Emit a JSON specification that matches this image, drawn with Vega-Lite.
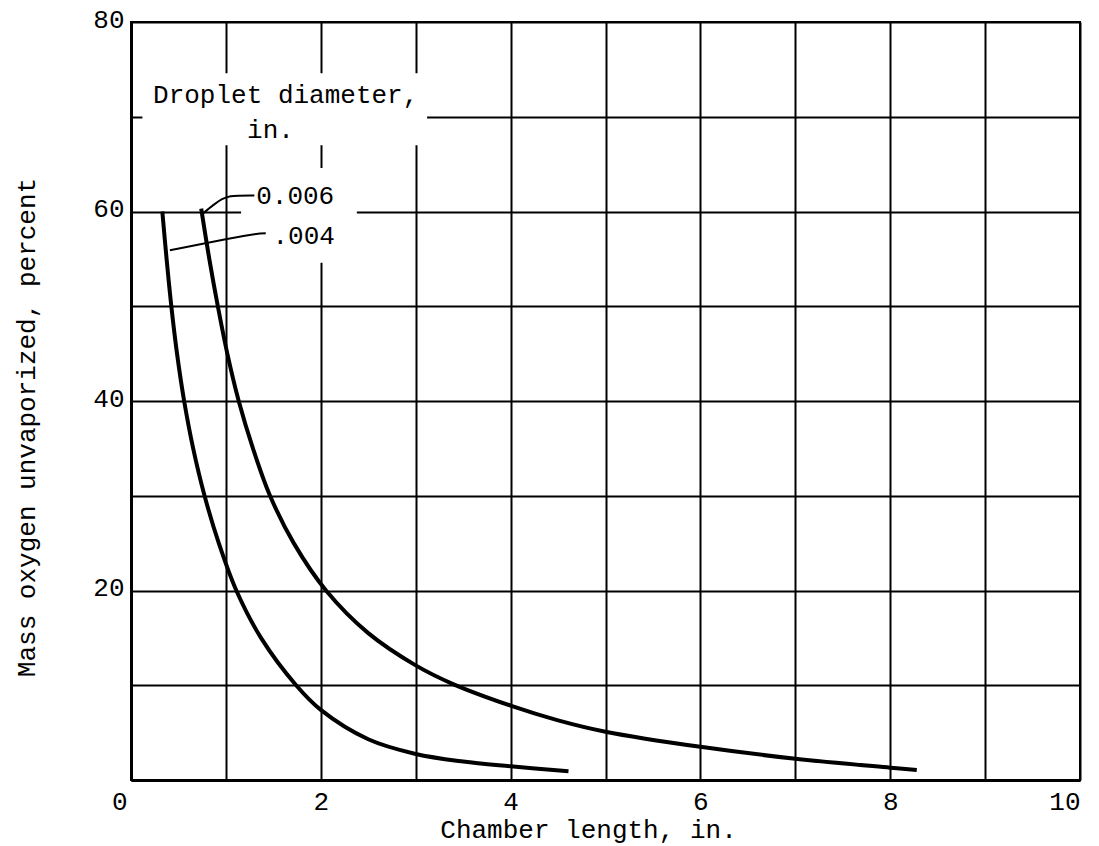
{
  "$schema": "https://vega.github.io/schema/vega-lite/v6.json",
  "width": 949,
  "height": 758,
  "autosize": "none",
  "padding": {"left": 131, "top": 22, "right": 19, "bottom": 66},
  "background": "white",
  "config": {
    "font": "Liberation Mono",
    "view": {"stroke": "black", "strokeWidth": 2}
  },
  "datasets": {
    "curves": [
      {"series": "0.006", "x": 0.74, "y": 60.3},
      {"series": "0.006", "x": 0.825, "y": 55},
      {"series": "0.006", "x": 0.915, "y": 50},
      {"series": "0.006", "x": 1.015, "y": 45},
      {"series": "0.006", "x": 1.135, "y": 40},
      {"series": "0.006", "x": 1.285, "y": 35},
      {"series": "0.006", "x": 1.465, "y": 30},
      {"series": "0.006", "x": 1.715, "y": 25},
      {"series": "0.006", "x": 2.055, "y": 20},
      {"series": "0.006", "x": 2.5, "y": 15.5},
      {"series": "0.006", "x": 3.0, "y": 12.1},
      {"series": "0.006", "x": 3.4, "y": 10.1},
      {"series": "0.006", "x": 4.0, "y": 7.85},
      {"series": "0.006", "x": 4.5, "y": 6.3},
      {"series": "0.006", "x": 5.0, "y": 5.1},
      {"series": "0.006", "x": 6.0, "y": 3.5},
      {"series": "0.006", "x": 7.0, "y": 2.25},
      {"series": "0.006", "x": 8.0, "y": 1.3},
      {"series": "0.006", "x": 8.28, "y": 1.05},
      {"series": "0.004", "x": 0.33, "y": 60},
      {"series": "0.004", "x": 0.375, "y": 55},
      {"series": "0.004", "x": 0.425, "y": 50},
      {"series": "0.004", "x": 0.485, "y": 45},
      {"series": "0.004", "x": 0.56, "y": 40},
      {"series": "0.004", "x": 0.655, "y": 35},
      {"series": "0.004", "x": 0.775, "y": 30},
      {"series": "0.004", "x": 0.925, "y": 25},
      {"series": "0.004", "x": 1.11, "y": 20},
      {"series": "0.004", "x": 1.37, "y": 15},
      {"series": "0.004", "x": 1.74, "y": 10},
      {"series": "0.004", "x": 2.0, "y": 7.4},
      {"series": "0.004", "x": 2.5, "y": 4.3},
      {"series": "0.004", "x": 3.0, "y": 2.75},
      {"series": "0.004", "x": 3.5, "y": 1.95},
      {"series": "0.004", "x": 4.0, "y": 1.45},
      {"series": "0.004", "x": 4.61, "y": 0.92}
    ],
    "leaders": [
      {"series": "a", "o": 1, "x": 0.76, "y": 59.8},
      {"series": "a", "o": 2, "x": 0.87, "y": 60.7},
      {"series": "a", "o": 3, "x": 0.96, "y": 61.3},
      {"series": "a", "o": 4, "x": 1.05, "y": 61.6},
      {"series": "a", "o": 5, "x": 1.3, "y": 61.7},
      {"series": "b", "o": 1, "x": 0.41, "y": 55.9},
      {"series": "b", "o": 2, "x": 1.3, "y": 57.6},
      {"series": "b", "o": 3, "x": 1.42, "y": 57.7}
    ],
    "boxes": [
      {"x": 0.12, "x2": 3.12, "y": 67, "y2": 74.6},
      {"x": 1.16, "x2": 2.38, "y": 54.6, "y2": 64.6}
    ],
    "labels": [
      {"x": 1.63, "y": 72.3, "text": "Droplet diameter,"},
      {"x": 1.47, "y": 68.6, "text": "in."},
      {"x": 1.73, "y": 61.6, "text": "0.006"},
      {"x": 1.82, "y": 57.4, "text": ".004"}
    ]
  },
  "layer": [
    {
      "data": {"name": "boxes"},
      "mark": {"type": "rect", "fill": "white", "stroke": null},
      "encoding": {
        "x": {
          "field": "x", "type": "quantitative",
          "scale": {"domain": [0, 10], "nice": false, "zero": false},
          "axis": {
            "values": [0, 1, 2, 3, 4, 5, 6, 7, 8, 9, 10],
            "format": "d",
            "labelExpr": "datum.value % 2 == 0 ? datum.label : ''",
            "grid": true, "gridColor": "black", "gridWidth": 2, "gridOpacity": 1,
            "ticks": false, "tickSize": 0,
            "domainColor": "black", "domainWidth": 3,
            "labelFontSize": 26, "labelColor": "black", "labelPadding": 8,
            "labelFont": "Liberation Mono",
            "labelAlign": {"condition": {"test": "datum.value == 0 || datum.value == 10", "value": "right"}, "value": "center"},
            "labelOffset": {"condition": {"test": "datum.value == 0", "value": -4}, "value": 0},
            "title": "Chamber length, in.",
            "titleFont": "Liberation Mono", "titleFontSize": 26,
            "titleFontWeight": "normal", "titleColor": "black", "titlePadding": 2,
            "titleX": 457, "titleAlign": "center"
          }
        },
        "x2": {"field": "x2"},
        "y": {
          "field": "y", "type": "quantitative",
          "scale": {"domain": [0, 80], "nice": false, "zero": false},
          "axis": {
            "values": [0, 10, 20, 30, 40, 50, 60, 70, 80],
            "format": "d",
            "labelExpr": "datum.value % 20 == 0 && datum.value > 0 ? datum.label : ''",
            "grid": true, "gridColor": "black", "gridWidth": 2, "gridOpacity": 1,
            "ticks": false, "tickSize": 0,
            "domainColor": "black", "domainWidth": 3,
            "labelFontSize": 26, "labelColor": "black", "labelPadding": 7,
            "labelOffset": -3,
            "labelFont": "Liberation Mono",
            "title": "Mass oxygen unvaporized, percent",
            "titleFont": "Liberation Mono", "titleFontSize": 26,
            "titleFontWeight": "normal", "titleColor": "black",
            "titleX": -105, "titleY": 405, "titleBaseline": "middle", "titleAlign": "center", "titleAngle": -90
          }
        },
        "y2": {"field": "y2"}
      }
    },
    {
      "data": {"name": "curves"},
      "mark": {"type": "line", "color": "black", "strokeWidth": 4, "interpolate": "catmull-rom"},
      "encoding": {
        "x": {"field": "x", "type": "quantitative"},
        "y": {"field": "y", "type": "quantitative"},
        "detail": {"field": "series"}
      }
    },
    {
      "data": {"name": "leaders"},
      "mark": {"type": "line", "color": "black", "strokeWidth": 2, "interpolate": "catmull-rom"},
      "encoding": {
        "x": {"field": "x", "type": "quantitative"},
        "y": {"field": "y", "type": "quantitative"},
        "detail": {"field": "series"},
        "order": {"field": "o"}
      }
    },
    {
      "data": {"name": "labels"},
      "mark": {"type": "text", "font": "Liberation Mono", "fontSize": 26, "color": "black", "baseline": "middle", "align": "center"},
      "encoding": {
        "x": {"field": "x", "type": "quantitative"},
        "y": {"field": "y", "type": "quantitative"},
        "text": {"field": "text"}
      }
    }
  ]
}
